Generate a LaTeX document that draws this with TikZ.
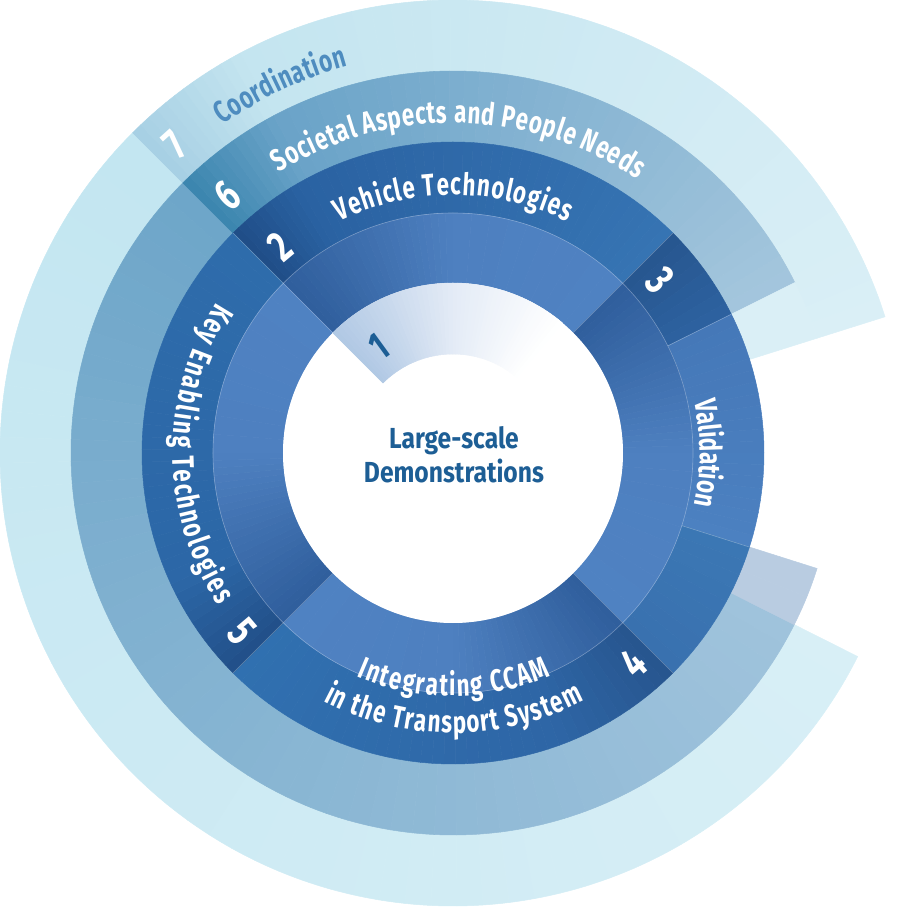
\documentclass[tikz,border=0pt]{standalone}
\usepackage{fontspec}
\setmainfont{Fira Sans}[FakeStretch=0.85]
\newfontfamily\lblfont{Fira Sans}[FakeStretch=0.72]
\usetikzlibrary{decorations.text}
\definecolor{dBotA}{HTML}{C3E6F1}\definecolor{dBotB}{HTML}{D8EFF6}
\definecolor{dTopA}{HTML}{A6CFE3}\definecolor{dTopB}{HTML}{C4E5F0}\definecolor{dTopC}{HTML}{DAEFF6}
\definecolor{cBotA}{HTML}{6EA6C9}\definecolor{cBotB}{HTML}{A0C3DC}
\definecolor{cTopA}{HTML}{3A85AE}\definecolor{cTopB}{HTML}{6AA3C8}\definecolor{cTopC}{HTML}{A4C6DD}
\definecolor{lav}{HTML}{B9CCE1}
\definecolor{bTwoA}{HTML}{1F4D87}\definecolor{bTwoB}{HTML}{2A62A2}\definecolor{bTwoC}{HTML}{3674B3}
\definecolor{bThrA}{HTML}{27568F}\definecolor{bThrB}{HTML}{2D62A0}
\definecolor{valA}{HTML}{4578B8}\definecolor{valB}{HTML}{4C81C1}
\definecolor{bRA}{HTML}{3B77B4}\definecolor{bRB}{HTML}{3971AF}
\definecolor{bFouA}{HTML}{27558E}\definecolor{bFouB}{HTML}{2E66A6}\definecolor{bFouC}{HTML}{3070B0}
\definecolor{bFivA}{HTML}{224F89}\definecolor{bFivB}{HTML}{2C67A7}\definecolor{bFivC}{HTML}{2E6CAB}
\definecolor{aDark}{HTML}{2F5E9C}\definecolor{aLight}{HTML}{4E80C0}\definecolor{aLightB}{HTML}{4F82C2}
\definecolor{oneA}{HTML}{B0C8E4}\definecolor{oneB}{HTML}{E3EBF6}
\definecolor{coord}{HTML}{4E8CBF}
\definecolor{ctext}{HTML}{1D5E95}
% annular sector with angular colour gradient: r1 r2 a1 a2 colA colB steps
\newcommand\gradsec[7]{%
  \foreach \k in {1,...,#7}{%
    \pgfmathsetmacro\angA{(#3)+((#4)-(#3))*(\k-1)/#7}%
    \pgfmathsetmacro\angB{(#3)+((#4)-(#3))*\k/#7}%
    \pgfmathtruncatemacro\mixp{100*(\k-0.5)/#7}%
    \path[fill=#6!\mixp!#5, draw=#6!\mixp!#5, line width=0.5pt]
      (\angA:#1pt) arc[start angle=\angA, end angle=\angB, radius=#1pt]
      -- (\angB:#2pt) arc[start angle=\angB, end angle=\angA, radius=#2pt] -- cycle;
  }}
\newcommand\lab{\lblfont\bfseries\fontsize{31}{31}\selectfont}
\tikzset{
  num/.style={font=\lblfont\bfseries\fontsize{44}{44}\selectfont, text=white, inner sep=0pt},
  seam/.style={white, opacity=0.3, line width=0.6pt},
  arclabel/.style={decorate, decoration={text along path, text align=center}}
}
\begin{document}
\begin{tikzpicture}
\useasboundingbox (-453pt,-455pt) rectangle (455pt,453pt);
% ring D (outer)
\gradsec{382}{453}{135}{333.3}{dBotA}{dBotB}{60}
\gradsec{382}{453}{135}{118}{dTopA}{dTopB}{12}
\gradsec{382}{453}{118}{17.5}{dTopB}{dTopC}{40}
% ring C
\gradsec{311}{382}{135}{333.3}{cBotA}{cBotB}{60}
\gradsec{311}{382}{135}{118}{cTopA}{cTopB}{12}
\gradsec{311}{382}{118}{26.5}{cTopB}{cTopC}{40}
\gradsec{311}{382}{26.5}{17.5}{dTopC}{dTopC}{2}
\gradsec{311}{382}{-17.6}{-26.7}{lav}{lav}{2}
% ring B
\gradsec{240}{311}{135}{120}{bTwoA}{bTwoB}{10}
\gradsec{240}{311}{120}{45}{bTwoB}{bTwoC}{40}
\gradsec{240}{311}{45}{26.5}{bThrA}{bThrB}{8}
\gradsec{240}{311}{26.5}{-17.6}{valA}{valB}{20}
\gradsec{240}{311}{-17.6}{-45}{bRA}{bRB}{10}
\gradsec{240}{311}{-45}{-70}{bFouA}{bFouB}{12}
\gradsec{240}{311}{-70}{-135}{bFouB}{bFouC}{30}
\gradsec{240}{311}{225}{205}{bFivA}{bFivB}{10}
\gradsec{240}{311}{205}{135}{bFivB}{bFivC}{30}
% ring A
\foreach \s in {135,45,-45,-135}{
  \gradsec{170}{240}{\s}{\s-45}{aDark}{aLight}{25}
  \gradsec{170}{240}{\s-45}{\s-90}{aLight}{aLightB}{10}
}
% centre
\fill[white] (0,0) circle (170pt);
\gradsec{99}{170}{135}{90}{oneA}{oneB}{25}
\gradsec{99}{170}{90}{50}{oneB}{white}{25}
% faint seams
\draw[seam] (0,0) circle (240pt);
\foreach \s in {45,135,225,315}{\draw[seam] (\s:170pt) -- (\s:311pt);}
\draw[seam] (26.5:240pt) -- (26.5:311pt);
\draw[seam] (-17.6:240pt) -- (-17.6:311pt);
% arc labels
\path[arclabel, decoration={text={|\lab\color{coord}\kern0.45pt|Coordination}}]
  (135.2:401pt) arc[start angle=135.2, end angle=95.2, radius=401pt];
\path[arclabel, decoration={text={|\lab\color{white}\kern0.7pt|Societal Aspects and People Needs}}]
  (139:330pt) arc[start angle=139, end angle=39, radius=330pt];
\path[arclabel, decoration={text={|\lab\color{white}\kern1.1pt|Vehicle Technologies}}]
  (130:258pt) arc[start angle=130, end angle=50, radius=258pt];
\path[arclabel, decoration={text={|\lab\color{white}|Validation}}]
  (30:247pt) arc[start angle=30, end angle=-30, radius=247pt];
\path[arclabel, decoration={text={|\lab\color{white}\kern2pt|Key Enabling Technologies}}]
  (130:280pt) arc[start angle=130, end angle=230, radius=280pt];
\path[arclabel, decoration={text={|\lab\color{white}\kern1.6pt|Integrating CCAM}}]
  (-130:243pt) arc[start angle=-130, end angle=-50, radius=243pt];
\path[arclabel, decoration={text={|\lab\color{white}\kern1.2pt|in the Transport System}}]
  (-130:280pt) arc[start angle=-130, end angle=-50, radius=280pt];
% numbers
\node[num, rotate=42] (n7) at (-278pt,308pt) {7};
\node[num, rotate=41] (n6) at (-225pt,258pt) {6};
\node[num, rotate=40] (n2) at (-173pt,206pt) {2};
\node[num, rotate=-50] (n3) at (207pt,173pt) {3};
\node[num, rotate=40.6] (n4) at (180pt,-210pt) {4};
\node[num, rotate=-49.7] (n5) at (-211pt,-179pt) {5};
\node[num, text=ctext, rotate=36, font=\lblfont\bfseries\fontsize{40}{40}\selectfont] (n1) at (-74pt,106pt) {1};
% centre title
\node[anchor=base, text=ctext, font=\bfseries\fontsize{29}{29}\selectfont, inner sep=0pt] (t1) at (1pt,5pt) {Large-scale};
\node[anchor=base, text=ctext, font=\bfseries\fontsize{29}{29}\selectfont, inner sep=0pt] (t2) at (1pt,-29pt) {Demonstrations};
\end{tikzpicture}
\end{document}
